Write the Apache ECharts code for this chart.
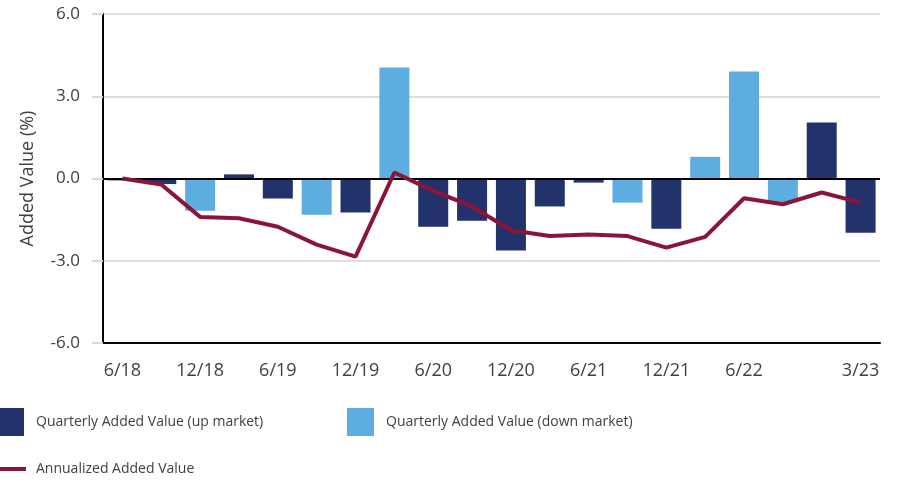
<!DOCTYPE html>
<html>
<head>
<meta charset="utf-8">
<script src="https://cdn.jsdelivr.net/npm/echarts@6/dist/echarts.min.js"></script>
<style>
  html, body { margin: 0; padding: 0; background: #fff; }
  #chart { width: 898px; height: 483px; }
</style>
</head>
<body>
<div id="chart"></div>
<script>
// quarter ends, 6/18 .. 3/23
const quarters = ['6/18', '9/18', '12/18', '3/19', '6/19', '9/19', '12/19', '3/20', '6/20', '9/20',
  '12/20', '3/21', '6/21', '9/21', '12/21', '3/22', '6/22', '9/22', '12/22', '3/23']
// quarterly added value (%) and which market it fell in
const quarterly = [-0.07, -0.2, -1.18, 0.15, -0.73, -1.32, -1.24, 4.05, -1.76, -1.54,
  -2.63, -1.02, -0.15, -0.88, -1.83, 0.79, 3.9, -0.86, 2.04, -1.98]
const market = ['up', 'up', 'down', 'up', 'up', 'down', 'up', 'down', 'up', 'up',
  'up', 'up', 'up', 'down', 'up', 'down', 'down', 'down', 'up', 'up']
const annualized = [0, -0.22, -1.4, -1.45, -1.76, -2.41, -2.85, 0.22, -0.45, -1.02,
  -1.89, -2.1, -2.04, -2.1, -2.52, -2.13, -0.72, -0.94, -0.51, -0.88]
const yTicks = [-6, -3, 0, 3, 6]

const upData = quarterly.map((v, i) => market[i] === 'up' ? v : null)
const downData = quarterly.map((v, i) => market[i] === 'down' ? v : null)

const font = '"Open Sans", "Noto Sans", sans-serif'
const textColor = '#404040'
const last = quarters.length - 1

const chart = echarts.init(document.getElementById('chart'))

let option = {
  animation: false,
  textStyle: { fontFamily: font },
  grid: { left: 103, right: 18, top: 14, bottom: 140 },
  legend: [
    {
      left: -3, top: 408, padding: 0, itemWidth: 27, itemHeight: 28,
      data: [{ name: 'Quarterly Added Value (up market)', icon: 'rect' }],
      textStyle: { fontSize: 14, color: textColor, fontFamily: font, padding: [5, 0, 0, 7] }
    },
    {
      left: 347, top: 408, padding: 0, itemWidth: 27, itemHeight: 28,
      data: [{ name: 'Quarterly Added Value (down market)', icon: 'rect' }],
      textStyle: { fontSize: 14, color: textColor, fontFamily: font, padding: [5, 0, 0, 7] }
    },
    {
      left: -1, top: 462, padding: 0, itemWidth: 27, itemHeight: 4,
      data: [{ name: 'Annualized Added Value', icon: 'rect' }],
      textStyle: { fontSize: 14, color: textColor, fontFamily: font, padding: [5, 0, 0, 5] }
    }
  ],
  xAxis: {
    type: 'category',
    data: quarters,
    boundaryGap: true,
    axisLine: { onZero: false, lineStyle: { color: '#000', width: 2 } },
    axisTick: {
      alignWithLabel: true,
      length: 11,
      interval: (i) => i % 2 === 0 || i === last,
      lineStyle: { color: '#d9d9d9', width: 2 }
    },
    axisLabel: {
      interval: (i) => (i % 2 === 0 && i !== last - 1) || i === last,
      margin: 19,
      fontSize: 18,
      color: textColor,
      fontFamily: font
    }
  },
  yAxis: {
    type: 'value',
    min: yTicks[0],
    max: yTicks[yTicks.length - 1],
    interval: 3,
    name: 'Added Value (%)',
    nameLocation: 'middle',
    nameGap: 66,
    nameTextStyle: { fontSize: 18, color: textColor, fontFamily: font },
    axisLine: { show: true, lineStyle: { color: '#000', width: 2 } },
    axisTick: { show: true, length: 11, lineStyle: { color: '#d9d9d9', width: 2 } },
    axisLabel: {
      margin: 23,
      fontSize: 17,
      color: textColor,
      fontFamily: font,
      formatter: (v) => v.toFixed(1)
    },
    splitLine: { lineStyle: { color: '#dedede', width: 2 } }
  },
  series: [
    {
      name: 'Quarterly Added Value (up market)',
      type: 'bar',
      data: upData,
      barWidth: 30,
      barGap: '-100%',
      itemStyle: { color: '#22326b' },
      markLine: {
        silent: true,
        symbol: ['none', 'none'],
        label: { show: false },
        lineStyle: { color: '#000', width: 2, type: 'solid' },
        data: [{ yAxis: 0 }]
      }
    },
    {
      name: 'Quarterly Added Value (down market)',
      type: 'bar',
      data: downData,
      barWidth: 30,
      barGap: '-100%',
      itemStyle: { color: '#5eade0' }
    },
    {
      name: 'Annualized Added Value',
      type: 'line',
      data: annualized,
      showSymbol: false,
      symbol: 'none',
      lineStyle: { color: '#8b1538', width: 4 },
      itemStyle: { color: '#8b1538' },
      z: 5
    }
  ]
}

chart.setOption(option)
</script>
</body>
</html>
